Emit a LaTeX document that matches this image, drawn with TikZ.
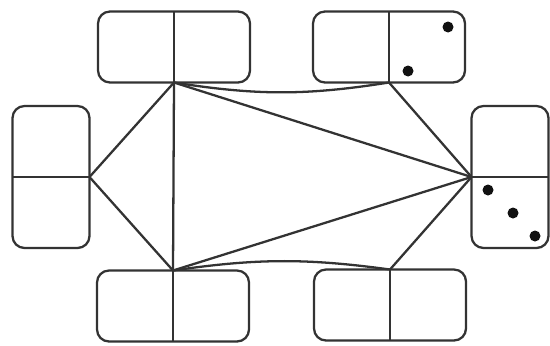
\documentclass[tikz,border=0pt]{standalone}
\usepackage{xcolor}
\definecolor{tilegray}{HTML}{333333}
\definecolor{pipblack}{HTML}{111111}

\begin{document}
\begin{tikzpicture}[x=0.02cm, y=-0.02cm, line width=1.3pt,
  domino/.style={draw=tilegray, rounded corners=0.24cm, minimum width=3.04cm,
    minimum height=1.42cm, inner sep=0pt, outer sep=0pt},
  vdomino/.style={domino, minimum width=1.54cm, minimum height=2.84cm},
  pip/.style={fill=pipblack, draw=none}]
  \useasboundingbox (0,0) rectangle (550,345);

  % tiles
  \node[domino] (topL) at (174,47) {};
  \node[domino] (topR) at (389,47) {};
  \node[domino] (botL) at (173,306) {};
  \node[domino] (botR) at (390,305) {};
  \node[vdomino] (left) at (51,177) {};
  \node[vdomino] (right) at (510,177) {};

  % halves
  \draw[tilegray] (topL.north) -- (topL.south);
  \draw[tilegray] (topR.north) -- (topR.south);
  \draw[tilegray] (botL.north) -- (botL.south);
  \draw[tilegray] (botR.north) -- (botR.south);
  \draw[tilegray] (left.west) -- (left.east);
  \draw[tilegray] (right.west) -- (right.east);

  % pips
  \fill[pip] (448,27) circle (5.5);
  \fill[pip] (408,71) circle (5.5);
  \fill[pip] (488,190) circle (5.5);
  \fill[pip] (513,213) circle (5.5);
  \fill[pip] (535,236) circle (5.5);

  % links
  \draw[tilegray] (topL.south) -- (left.east) -- (botL.north);
  \draw[tilegray] (topL.south) -- (botL.north);
  \draw[tilegray] (topL.south) to[bend right=9] (topR.south);
  \draw[tilegray] (botL.north) to[bend left=8] (botR.north);
  \draw[tilegray] (topL.south) -- (right.west);
  \draw[tilegray] (botL.north) -- (right.west);
  \draw[tilegray] (topR.south) -- (right.west) -- (botR.north);
\end{tikzpicture}
\end{document}
